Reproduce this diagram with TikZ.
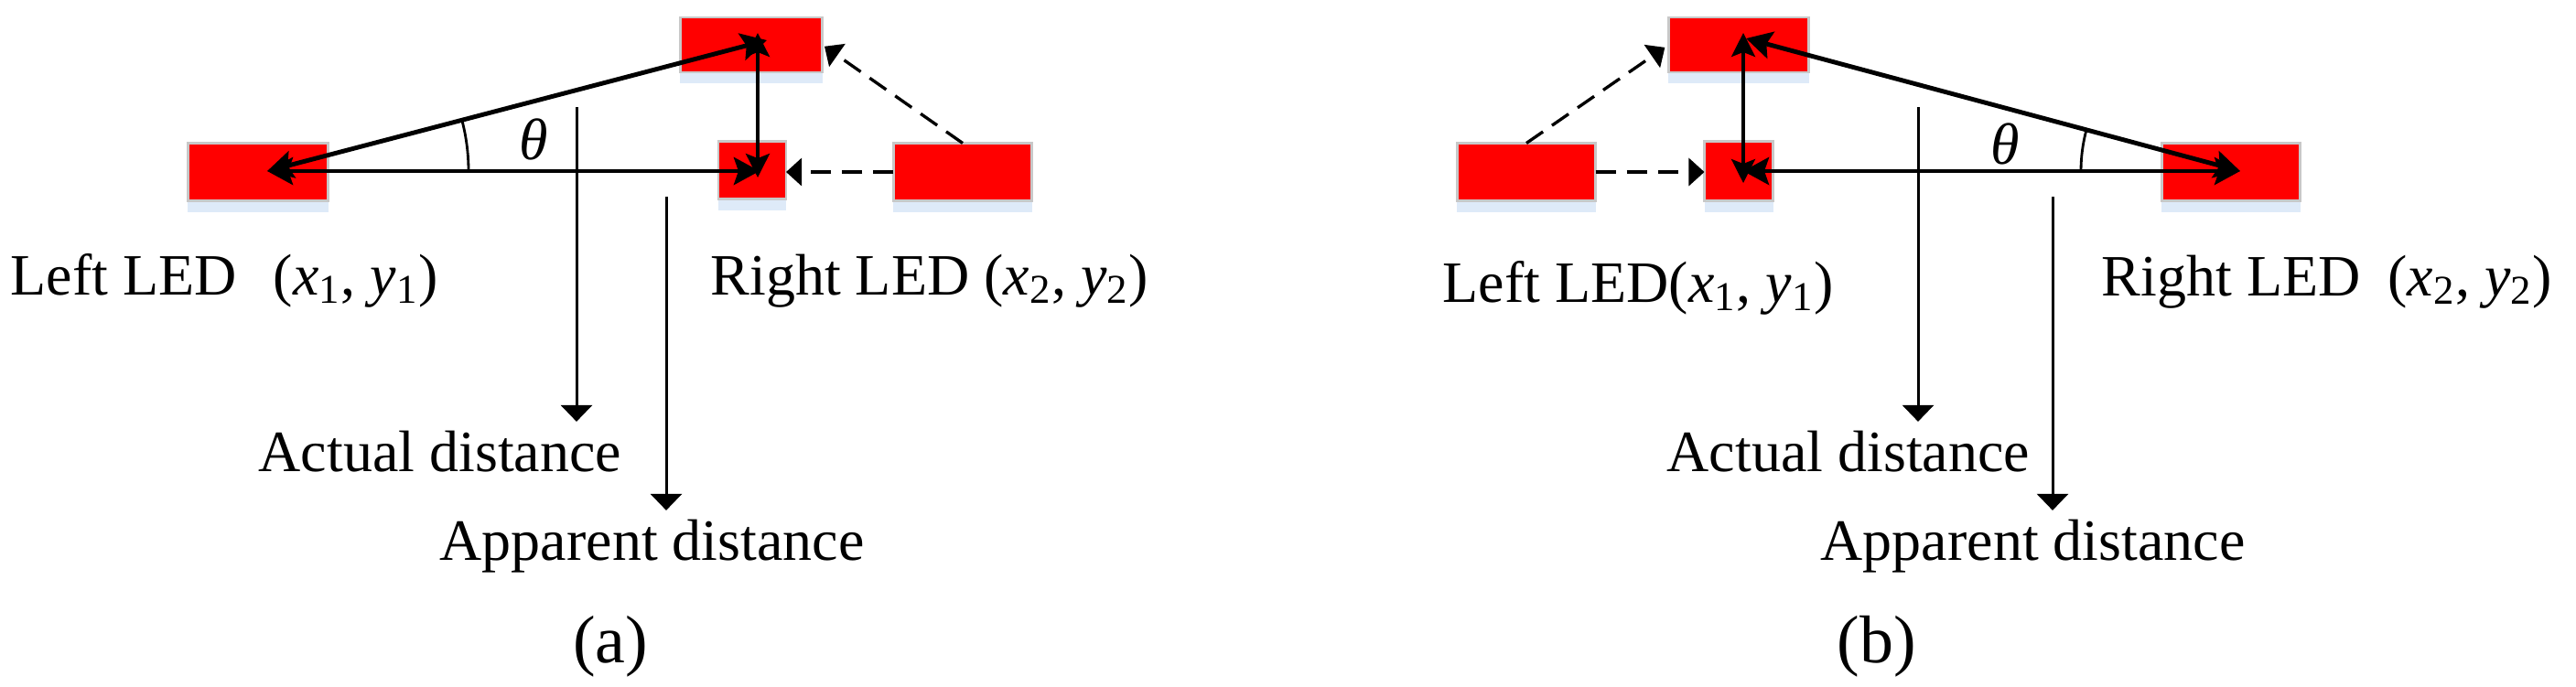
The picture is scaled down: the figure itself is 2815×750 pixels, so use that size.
\documentclass[tikz,border=0pt]{standalone}
\usepackage{fontspec}
\setmainfont{Liberation Serif}
\usetikzlibrary{arrows.meta,shadows}
\definecolor{ledborder}{RGB}{200,200,200}
\definecolor{ledshadow}{RGB}{218,232,247}
\begin{document}
\begin{tikzpicture}[x=0.01cm,y=-0.01cm,
  led/.style={draw=ledborder, line width=0.7pt, fill=red, inner sep=0pt, outer sep=0pt,
    drop shadow={shadow xshift=0pt, shadow yshift=-0.12cm, fill=ledshadow, opacity=0.9}},
  lbl/.style={font=\fontsize{18.2}{22}\selectfont, inner sep=0pt, anchor=base west},
  captionlbl/.style={font=\fontsize{21}{25}\selectfont, inner sep=0pt, anchor=base},
  thickarr/.style={line width=1.4pt, {Stealth[length=0.28cm,width=0.3cm,inset=0.05cm]}-{Stealth[length=0.28cm,width=0.3cm,inset=0.05cm]}},
  vertarr/.style={line width=1pt, {Stealth[length=0.26cm,width=0.26cm,inset=0.05cm]}-{Stealth[length=0.26cm,width=0.26cm,inset=0.05cm]}},
  distarr/.style={line width=0.85pt, -{Triangle[length=0.18cm,width=0.34cm]}},
  dasharr/.style={line width=0.95pt, dash pattern=on 0.22cm off 0.12cm, -{Triangle[length=0.17cm,width=0.3cm]}},
  anglearc/.style={line width=0.8pt}
]
\useasboundingbox (0,0) rectangle (2815,750);

% ---------------- panel (a) ----------------
\node[led, minimum width=1.53cm, minimum height=0.63cm] (La) at (282,188) {};
\node[led, minimum width=1.55cm, minimum height=0.60cm] (Ta) at (821,49) {};
\node[led, minimum width=0.74cm, minimum height=0.63cm] (Ma) at (822,186) {};
\node[led, minimum width=1.51cm, minimum height=0.63cm] (Ra) at (1052,188) {};

\coordinate (Aa) at (292,187);
\coordinate (Pa) at (830,187);
\coordinate (Qa) at (828,36);
\coordinate (Sa) at (838,44);
\coordinate (Pva) at (828,194);

\draw[thickarr] (Aa) -- (Pa);
\draw[thickarr] (Aa) -- (Sa);
\draw[vertarr] (Qa) -- (Pva);
\draw[anglearc] (Aa) ++(220,0) arc[start angle=0, end angle=-14.6, radius=220];
\node[font=\fontsize{18.2}{22}\selectfont\itshape, inner sep=0pt] (tha) at (583,152) {θ};

\draw[dasharr] (Ra.west) -- (Ra.west -| Ma.east);
\draw[dasharr, shorten >=0.03cm] (Ra.north) -- (Ta.east);

\node[lbl] (La_l) at (11,322) {Left LED\hspace{0.4cm}(\textit{x}\textsubscript{1}, \textit{y}\textsubscript{1})};
\node[lbl] (Ra_l) at (776,322) {Right LED (\textit{x}\textsubscript{2}, \textit{y}\textsubscript{2})};
\node[lbl] (act_a) at (282,515) {Actual distance};
\node[lbl] (app_a) at (480,612) {Apparent distance};
\node[captionlbl] (cap_a) at (667,724) {(a)};

\coordinate (acta_top) at (630,117);
\coordinate (appa_top) at (728,215);
\draw[distarr, shorten >=0.09cm] (acta_top) -- (acta_top |- act_a.north);
\draw[distarr, shorten >=0.09cm] (appa_top) -- (appa_top |- app_a.north);

% ---------------- panel (b) ----------------
\node[led, minimum width=1.51cm, minimum height=0.63cm] (Lb) at (1668,188) {};
\node[led, minimum width=0.75cm, minimum height=0.65cm] (Mb) at (1900,187) {};
\node[led, minimum width=1.53cm, minimum height=0.60cm] (Tb) at (1900,49) {};
\node[led, minimum width=1.51cm, minimum height=0.63cm] (Rb) at (2438,188) {};

\coordinate (Ab) at (2448,187);
\coordinate (Pb) at (1905,187);
\coordinate (Qb) at (1905,36);
\coordinate (Sb) at (1908,42);
\coordinate (Pvb) at (1905,200);

\draw[thickarr] (Pb) -- (Ab);
\draw[thickarr] (Sb) -- (Ab);
\draw[vertarr] (Qb) -- (Pvb);
\draw[anglearc] (Ab) ++(-174,0) arc[start angle=180, end angle=195.3, radius=174];
\node[font=\fontsize{18.2}{22}\selectfont\itshape, inner sep=0pt] (thb) at (2191,157) {θ};

\draw[dasharr] (Lb.east) -- (Lb.east -| Mb.west);
\draw[dasharr, shorten >=0.05cm] (Lb.north) -- (Tb.west);

\node[lbl] (Lb_l) at (1576,330) {Left LED(\textit{x}\textsubscript{1}, \textit{y}\textsubscript{1})};
\node[lbl] (Rb_l) at (2296,323) {Right LED\hspace{0.3cm}(\textit{x}\textsubscript{2}, \textit{y}\textsubscript{2})};
\node[lbl] (act_b) at (1821,515) {Actual distance};
\node[lbl] (app_b) at (1989,612) {Apparent distance};
\node[captionlbl] (cap_b) at (2051,724) {(b)};

\coordinate (actb_top) at (2096,117);
\coordinate (appb_top) at (2243,215);
\draw[distarr, shorten >=0.09cm] (actb_top) -- (actb_top |- act_b.north);
\draw[distarr, shorten >=0.09cm] (appb_top) -- (appb_top |- app_b.north);
\end{tikzpicture}
\end{document}
